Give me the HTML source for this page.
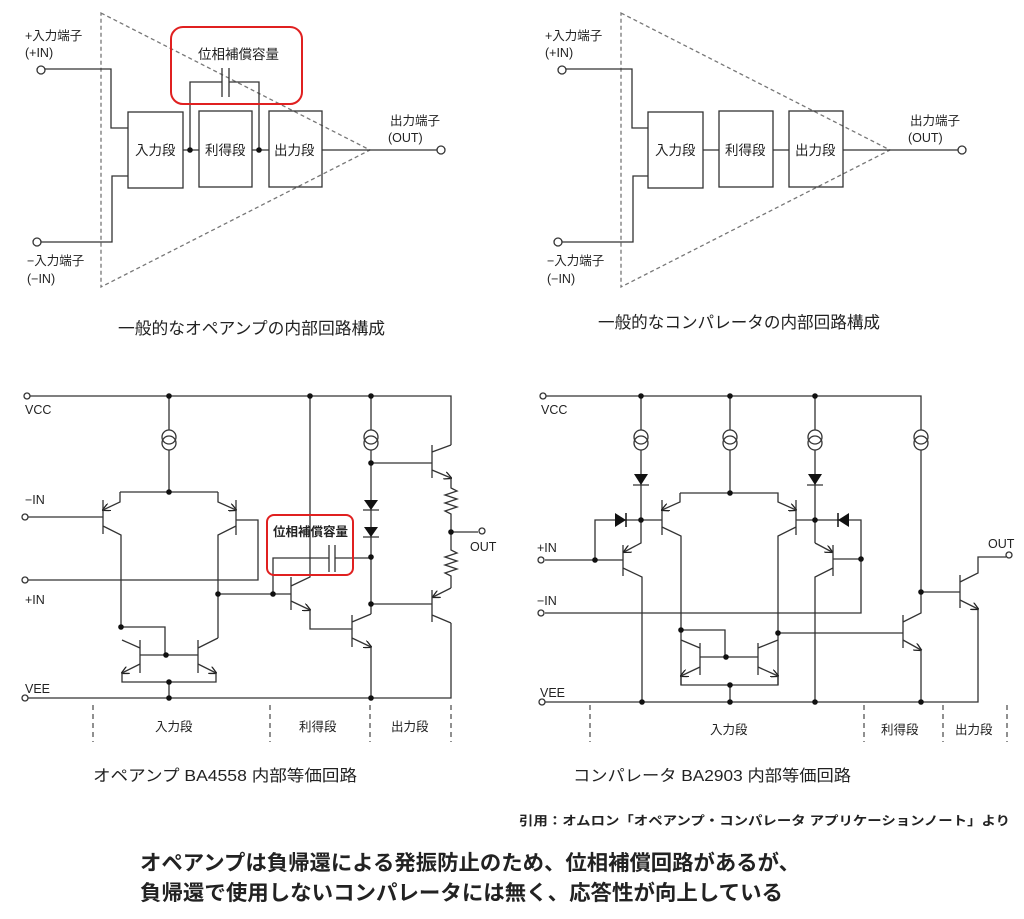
<!DOCTYPE html>
<html><head><meta charset="utf-8"><style>
html,body{margin:0;padding:0;background:#fff;}
svg{display:block;}
text{font-family:"Liberation Sans","Noto Sans CJK JP",sans-serif;fill:#222;}
</style></head><body>
<svg width="1024" height="919" viewBox="0 0 1024 919" xmlns="http://www.w3.org/2000/svg">
<defs>
<marker id="ar" markerWidth="8" markerHeight="8" refX="7" refY="4" orient="auto" markerUnits="userSpaceOnUse"><path d="M0,0 L8,4 L0,8" fill="none" stroke="#222" stroke-width="1.3"/></marker>
</defs>
<g stroke="#333" stroke-width="1.3" fill="none">
<!-- TOP LEFT -->
<path d="M101,13 L370,150 L101,287 Z" stroke="#777" stroke-dasharray="4,3"/>
<circle cx="41" cy="70" r="4" fill="#fff"/>
<circle cx="37" cy="242" r="4" fill="#fff"/>
<circle cx="441" cy="150" r="4" fill="#fff"/>
<path d="M45,69 H111 V128 H128"/>
<path d="M41,242 H112 V176 H128"/>
<rect x="128" y="112" width="55" height="76"/>
<rect x="199" y="111" width="53" height="76"/>
<rect x="269" y="111" width="53" height="76"/>
<path d="M183,150 H199 M252,150 H269 M322,150 H437"/>
<path d="M190,150 V82 H222 M229,82 H259 V150 M222,68 V97 M229,68 V97"/>
<rect x="171" y="27" width="131" height="77" rx="12" stroke="#e02020" stroke-width="2"/>
<!-- TOP RIGHT -->
<path d="M621,13 L890,150 L621,287 Z" stroke="#777" stroke-dasharray="4,3"/>
<circle cx="562" cy="70" r="4" fill="#fff"/>
<circle cx="558" cy="242" r="4" fill="#fff"/>
<circle cx="962" cy="150" r="4" fill="#fff"/>
<path d="M566,69 H632 V128 H648"/>
<path d="M562,242 H633 V176 H648"/>
<rect x="648" y="112" width="55" height="76"/>
<rect x="719" y="111" width="54" height="76"/>
<rect x="789" y="111" width="54" height="76"/>
<path d="M703,150 H719 M773,150 H789 M843,150 H958"/>

<!-- BOTTOM LEFT -->
<circle cx="27" cy="396" r="3" fill="#fff"/>
<path d="M30,396 H451 V445"/>
<circle cx="25" cy="698" r="3" fill="#fff"/>
<path d="M28,698 H451 V623"/>
<path d="M169,396 V430 M169,450 V492"/>
<circle cx="169" cy="437" r="7"/><circle cx="169" cy="443" r="7"/>
<path d="M120,492 H218"/>
<path d="M120,492 V502 L103,510" marker-end="url(#ar)"/>
<path d="M103,500 V534 M28,517 H103 M103,526 L121,535 V627"/>
<circle cx="25" cy="517" r="3" fill="#fff"/>
<path d="M218,492 V502 L236,510" marker-end="url(#ar)"/>
<path d="M236,500 V535 M236,520 H258 V580 H28 M236,526 L218,535 V638"/>
<circle cx="25" cy="580" r="3" fill="#fff"/>
<path d="M218,594 H291"/>
<path d="M121,627 H165 V655 M140,655 H198 M140,640 V673 M198,640 V673"/>
<path d="M122,640 L140,648 M198,648 L218,638"/>
<path d="M140,664 L122,673" marker-end="url(#ar)"/>
<path d="M198,664 L216,673" marker-end="url(#ar)"/>
<path d="M122,673 V682 H216 V673 M169,682 V698"/>
<path d="M310,396 V577 L291,586 M291,577 V610"/>
<path d="M291,601 L310,610" marker-end="url(#ar)"/>
<path d="M310,610 V629 H352 M352,615 V647 M352,622 L371,614"/>
<path d="M352,638 L371,647" marker-end="url(#ar)"/>
<path d="M371,647 V698"/>
<path d="M273,594 V558 H329 M335,558 H371 M329,545 V572 M335,545 V572"/>
<path d="M371,396 V430 M371,450 V614"/>
<circle cx="371" cy="437" r="7"/><circle cx="371" cy="443" r="7"/>
<path d="M371,463 H432 M432,445 V478 M432,452 L451,445"/>
<path d="M432,470 L451,478" marker-end="url(#ar)"/>
<path d="M451,478 V488 l6,3 -12,4 12,4 -12,4 12,4 -12,4 6,3 V550 l6,3 -12,4 12,4 -12,4 12,4 -12,4 6,3 V588"/>
<path d="M451,532 H478"/>
<circle cx="482" cy="531" r="3" fill="#fff"/>
<path d="M451,588 L433,597" marker-end="url(#ar)"/>
<path d="M371,604 H432 M432,590 V622 M432,615 L451,623"/>
<path d="M363,510 H379 M363,537 H379"/>
<rect x="267" y="515" width="86" height="60" rx="7" stroke="#e02020" stroke-width="2"/>
<g stroke-dasharray="5,4" stroke="#555"><path d="M93,705 V742 M270,705 V742 M370,705 V742 M451,705 V742"/></g>

<!-- BOTTOM RIGHT -->
<circle cx="543" cy="396" r="3" fill="#fff"/>
<path d="M546,396 H921 V430 M921,450 V613 L903,622 M903,615 V648"/>
<circle cx="921" cy="437" r="7"/><circle cx="921" cy="443" r="7"/>
<path d="M903,640 L921,650" marker-end="url(#ar)"/>
<path d="M921,650 V702"/>
<circle cx="542" cy="702" r="3" fill="#fff"/>
<path d="M545,702 H978 V609"/>
<path d="M641,396 V430 M641,450 V520"/>
<circle cx="641" cy="437" r="7"/><circle cx="641" cy="443" r="7"/>
<path d="M730,396 V430 M730,450 V493"/>
<circle cx="730" cy="437" r="7"/><circle cx="730" cy="443" r="7"/>
<path d="M815,396 V430 M815,450 V543"/>
<circle cx="815" cy="437" r="7"/><circle cx="815" cy="443" r="7"/>
<path d="M633,485 H649 M807,485 H823"/>
<path d="M595,560 V520 H641 H662 M662,500 V535"/>
<path d="M680,493 V502 L662,510" marker-end="url(#ar)"/>
<path d="M680,493 H778 V502 L796,510" marker-end="url(#ar)"/>
<path d="M662,527 L681,536 V685 M796,500 V535 M796,520 H815 M796,527 L778,536 V685"/>
<path d="M623,545 V576 M545,560 H623 M623,568 L642,577 V702"/>
<path d="M641,520 V543 L624,552" marker-end="url(#ar)"/>
<path d="M815,543 L832,552" marker-end="url(#ar)" />
<path d="M833,545 V576 M833,559 H861 M833,568 L815,577 V702"/>
<path d="M815,520 H861 V613 H545"/>
<circle cx="541" cy="560" r="3" fill="#fff"/>
<circle cx="541" cy="613" r="3" fill="#fff"/>
<path d="M681,630 H725 V657 M700,657 H758 M700,643 V675 M758,643 V675 M700,648 L681,640 M758,648 L778,640"/>
<path d="M700,667 L681,676" marker-end="url(#ar)"/>
<path d="M758,667 L778,676" marker-end="url(#ar)"/>
<path d="M681,676 V685 H778 V676 M730,685 V702"/>
<path d="M778,633 H903 M921,592 H960 M960,575 V608 M960,582 L978,573 V557 H1006"/>
<path d="M960,600 L978,609" marker-end="url(#ar)"/>
<circle cx="1009" cy="555" r="3" fill="#fff"/>
<g stroke-dasharray="5,4" stroke="#555"><path d="M590,705 V742 M864,705 V742 M943,705 V742 M1007,705 V742"/></g>
</g>
<!-- diodes -->
<g fill="#111">
<polygon points="364,500 378,500 371,510"/>
<polygon points="364,527 378,527 371,537"/>
<polygon points="634,474 648,474 641,485"/>
<polygon points="808,474 822,474 815,485"/>
<polygon points="615,513 615,527 626,520"/>
<polygon points="849,513 849,527 838,520"/>
<line x1="626" y1="513" x2="626" y2="527" stroke="#111" stroke-width="1.5"/>
<line x1="838" y1="513" x2="838" y2="527" stroke="#111" stroke-width="1.5"/>
<!-- dots -->
<circle cx="190" cy="150" r="2.8"/><circle cx="259" cy="150" r="2.8"/>
<circle cx="169" cy="396" r="2.8"/><circle cx="310" cy="396" r="2.8"/><circle cx="371" cy="396" r="2.8"/>
<circle cx="169" cy="492" r="2.8"/><circle cx="218" cy="594" r="2.8"/><circle cx="273" cy="594" r="2.8"/>
<circle cx="121" cy="627" r="2.8"/><circle cx="166" cy="655" r="2.8"/><circle cx="169" cy="682" r="2.8"/>
<circle cx="169" cy="698" r="2.8"/><circle cx="371" cy="698" r="2.8"/><circle cx="371" cy="463" r="2.8"/>
<circle cx="371" cy="557" r="2.8"/><circle cx="371" cy="604" r="2.8"/><circle cx="451" cy="532" r="2.8"/>
<circle cx="641" cy="396" r="2.8"/><circle cx="730" cy="396" r="2.8"/><circle cx="815" cy="396" r="2.8"/>
<circle cx="641" cy="520" r="2.8"/><circle cx="815" cy="520" r="2.8"/><circle cx="595" cy="560" r="2.8"/>
<circle cx="730" cy="493" r="2.8"/><circle cx="861" cy="559" r="2.8"/><circle cx="681" cy="630" r="2.8"/>
<circle cx="778" cy="633" r="2.8"/><circle cx="726" cy="657" r="2.8"/><circle cx="730" cy="685" r="2.8"/>
<circle cx="642" cy="702" r="2.8"/><circle cx="730" cy="702" r="2.8"/><circle cx="815" cy="702" r="2.8"/>
<circle cx="921" cy="702" r="2.8"/><circle cx="921" cy="592" r="2.8"/>
</g>
<!-- text -->
<g font-size="12.5">
<text x="25" y="40">+入力端子</text><text x="25" y="57">(+IN)</text>
<text x="27" y="265">−入力端子</text><text x="27" y="283">(−IN)</text>
<text x="390" y="125">出力端子</text><text x="388" y="142">(OUT)</text>
<text x="198" y="59" font-size="13.5">位相補償容量</text>
<text x="135" y="155" font-size="13.5">入力段</text><text x="205" y="155" font-size="13.5">利得段</text><text x="274" y="155" font-size="13.5">出力段</text>
<text x="545" y="40">+入力端子</text><text x="545" y="57">(+IN)</text>
<text x="547" y="265">−入力端子</text><text x="547" y="283">(−IN)</text>
<text x="910" y="125">出力端子</text><text x="908" y="142">(OUT)</text>
<text x="655" y="155" font-size="13.5">入力段</text><text x="725" y="155" font-size="13.5">利得段</text><text x="795" y="155" font-size="13.5">出力段</text>
<text x="25" y="414">VCC</text><text x="25" y="504">−IN</text><text x="25" y="604">+IN</text><text x="25" y="693">VEE</text>
<text x="470" y="551">OUT</text>
<text x="273" y="536" font-weight="bold">位相補償容量</text>
<text x="155" y="731">入力段</text><text x="299" y="731">利得段</text><text x="391" y="731">出力段</text>
<text x="541" y="414">VCC</text><text x="537" y="552">+IN</text><text x="537" y="605">−IN</text><text x="540" y="697">VEE</text>
<text x="988" y="548">OUT</text>
<text x="710" y="734">入力段</text><text x="881" y="734">利得段</text><text x="955" y="734">出力段</text>
</g>
<text x="118" y="334" font-size="16.5" textLength="267" lengthAdjust="spacingAndGlyphs">一般的なオペアンプの内部回路構成</text>
<text x="598" y="328" font-size="16.5" textLength="282" lengthAdjust="spacingAndGlyphs">一般的なコンパレータの内部回路構成</text>
<text x="93" y="781" font-size="16" textLength="264" lengthAdjust="spacingAndGlyphs">オペアンプ BA4558  内部等価回路</text>
<text x="573" y="781" font-size="16" textLength="278" lengthAdjust="spacingAndGlyphs">コンパレータ BA2903  内部等価回路</text>
<text x="519" y="825" font-size="12.5" font-weight="bold" textLength="491" lengthAdjust="spacingAndGlyphs">引用：オムロン「オペアンプ・コンパレータ アプリケーションノート」より</text>
<text x="140" y="870" font-size="21" font-weight="bold" fill="#000" textLength="660" lengthAdjust="spacingAndGlyphs">オペアンプは負帰還による発振防止のため、位相補償回路があるが、</text>
<text x="140" y="900" font-size="21" font-weight="bold" fill="#000" textLength="643" lengthAdjust="spacingAndGlyphs">負帰還で使用しないコンパレータには無く、応答性が向上している</text>
</svg>
</body></html>
